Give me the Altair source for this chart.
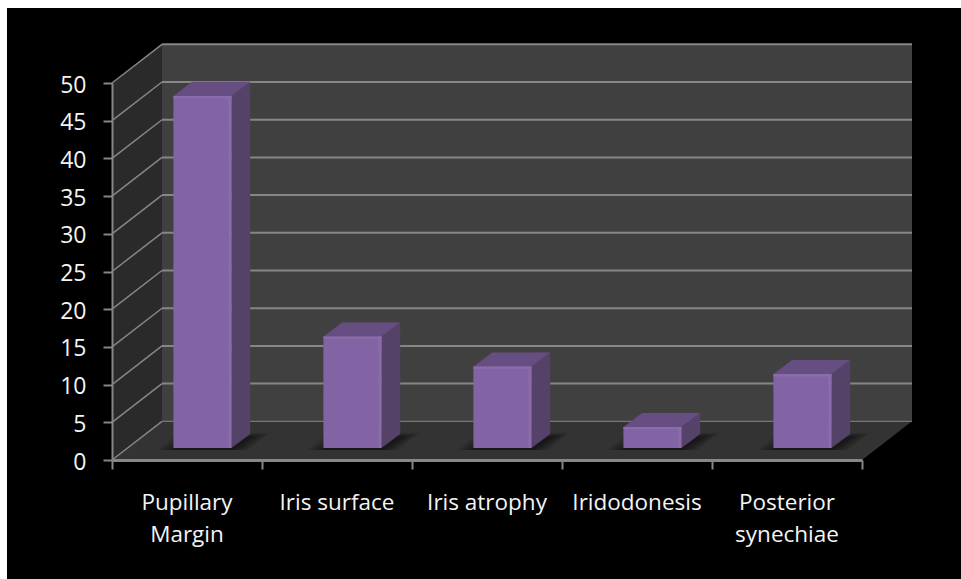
import altair as alt
import pandas as pd

categories = ["Pupillary\nMargin", "Iris surface", "Iris atrophy", "Iridodonesis", "Posterior\nsynechiae"]
values = [46.7, 14.8, 10.8, 2.8, 9.8]
y_ticks = [0, 5, 10, 15, 20, 25, 30, 35, 40, 45, 50]

# Oblique projection of the box, in axis units (1 category, 1 count)
DEPTH_X = 1 / 3
DEPTH_Y = 5.13
BAR_W = 0.387
BAR_SHIFT = 0.103
BAR_BASE = 1.59
SIDE_X = 0.125
SIDE_Y = 1.86
N = len(categories)

X_SCALE = alt.Scale(domain=[0, N], nice=False, zero=False)
Y_SCALE = alt.Scale(domain=[0, 50], nice=False, zero=False)

# Front axes carry the ticks and the count labels
X_AXIS = alt.Axis(
    values=list(range(N + 1)), labels=False, grid=False, zindex=1, title=None,
    domainColor="#868686", domainWidth=3, tickColor="#868686", tickWidth=2, tickSize=9,
)
Y_AXIS = alt.Axis(
    values=y_ticks, grid=False, zindex=1, title=None,
    domainColor="#868686", domainWidth=2, tickColor="#868686", tickWidth=2, tickSize=9,
    labelColor="#f4f4f4", labelFont="Open Sans", labelFontSize=23, labelPadding=17, labelOffset=2,
)


def X(field):
    return alt.X(field, type="quantitative", scale=X_SCALE, axis=X_AXIS)


def Y(field):
    return alt.Y(field, type="quantitative", scale=Y_SCALE, axis=Y_AXIS)


bars = pd.DataFrame({"cat": categories, "value": values})
bars["id"] = range(N)
bars["xl"] = bars["id"] + 0.5 - BAR_W / 2 + BAR_SHIFT
bars["xr"] = bars["xl"] + BAR_W
bars["y0"] = BAR_BASE
bars["y1"] = BAR_BASE + bars["value"]

# Black slide panel behind the chart; the page's white shows at the top and left
panel = alt.Chart(pd.DataFrame({"a": [0]})).mark_rect(color="#000000").encode(
    x=alt.value(-105), x2=alt.value(849), y=alt.value(-75), y2=alt.value(496)
)

# Walls and floor
side_wall = alt.Chart(pd.DataFrame({
    "x": [0, DEPTH_X], "y": [0, DEPTH_Y], "y2": [50, 50 + DEPTH_Y]
})).mark_area(color="#2a2a2a").encode(x=X("x"), y=Y("y"), y2="y2")

floor = alt.Chart(pd.DataFrame({
    "y": [0, DEPTH_Y], "x": [0, DEPTH_X], "x2": [N, N + DEPTH_X]
})).mark_area(color="#333333", orient="horizontal").encode(x=X("x"), x2="x2", y=Y("y"))

back_wall = alt.Chart(pd.DataFrame({
    "x": [DEPTH_X], "x2": [N + DEPTH_X], "y": [DEPTH_Y], "y2": [50 + DEPTH_Y]
})).mark_rect(color="#404040").encode(x=X("x"), x2="x2", y=Y("y"), y2="y2")

grid = pd.DataFrame({"v": y_ticks})
grid["back"] = grid["v"] + DEPTH_Y
grid["xa"] = DEPTH_X
grid["xb"] = N + DEPTH_X
grid["x0"] = 0.0

back_grid = alt.Chart(grid[grid["v"] > 0]).mark_rule(color="#868686", strokeWidth=2).encode(
    x=X("xa"), x2="xb", y=Y("back"), y2="back"
)
floor_line = alt.Chart(grid[grid["v"] == 0]).mark_rule(color="#868686", strokeWidth=1).encode(
    x=X("xa"), x2="xb", y=Y("back"), y2="back"
)
side_grid = alt.Chart(grid).mark_rule(color="#868686", strokeWidth=1.5).encode(
    x=X("x0"), x2="xa", y=Y("v"), y2="back"
)

# Soft contact shadows on the floor: stacked translucent parallelograms
shadow_rows = []
spreads = [0.11, 0.095, 0.08, 0.065, 0.05, 0.035, 0.02, 0.005]
for k, spread in enumerate(spreads):
    for _, b in bars.iterrows():
        for t in (0.0, 1.0):
            shadow_rows.append({
                "sid": f"{k}-{b['id']}",
                "y": b["y0"] - 0.25 + t * (SIDE_Y + 0.4 - 0.08 * k),
                "x": b["xl"] - spread + t * (SIDE_X + 0.02),
                "x2": b["xr"] + spread + t * (SIDE_X + 0.02),
            })
shadows = alt.Chart(pd.DataFrame(shadow_rows)).mark_area(
    color="#000000", opacity=0.075, orient="horizontal"
).encode(x=X("x"), x2="x2", y=Y("y"), detail="sid:N")

# Bar faces
side_rows = []
top_rows = []
for _, b in bars.iterrows():
    side_rows += [
        {"id": b["id"], "x": b["xr"], "y": b["y0"], "y2": b["y1"]},
        {"id": b["id"], "x": b["xr"] + SIDE_X, "y": b["y0"] + SIDE_Y, "y2": b["y1"] + SIDE_Y},
    ]
    top_rows += [
        {"id": b["id"], "y": b["y1"], "x": b["xl"], "x2": b["xr"]},
        {"id": b["id"], "y": b["y1"] + SIDE_Y, "x": b["xl"] + SIDE_X, "x2": b["xr"] + SIDE_X},
    ]

bar_side = alt.Chart(pd.DataFrame(side_rows)).mark_area(color="#554268").encode(
    x=X("x"), y=Y("y"), y2="y2", detail="id:N"
)
bar_top = alt.Chart(pd.DataFrame(top_rows)).mark_area(color="#664e82", orient="horizontal").encode(
    x=X("x"), x2="x2", y=Y("y"), detail="id:N"
)
bar_front = alt.Chart(bars).mark_rect(color="#8263a4").encode(
    x=X("xl"), x2="xr", y=Y("y0"), y2="y1"
)

# Bevel highlights along the top and right edges of each front face
bars["bevel_x"] = bars["xr"] - 0.02
bars["bevel_y"] = bars["y1"] - 0.3
bevel_right = alt.Chart(bars).mark_rect(color="#8a6cab").encode(
    x=X("bevel_x"), x2="xr", y=Y("y0"), y2="y1"
)
bevel_top = alt.Chart(bars).mark_rect(color="#8a6cab").encode(
    x=X("xl"), x2="xr", y=Y("bevel_y"), y2="y1"
)

cat_labels = pd.DataFrame({"cat": categories, "x": [i + 0.5 for i in range(N)], "y": [-6.6] * N})
labels = alt.Chart(cat_labels).mark_text(
    color="#f4f4f4", font="Open Sans", fontSize=22.5, lineBreak="\n", lineHeight=32,
    align="center", baseline="alphabetic",
).encode(x=X("x"), y=Y("y"), text="cat:N")

chart = alt.layer(
    panel, side_wall, floor, back_wall, back_grid, floor_line, side_grid,
    shadows, bar_side, bar_top, bar_front, bevel_right, bevel_top, labels,
).properties(
    width=750,
    height=377,
    background="#ffffff",
    padding={"left": 112, "right": 99, "top": 83, "bottom": 119},
    autosize=alt.AutoSizeParams(type="none"),
).configure_view(stroke=None)

chart.save("out.html", embed_options={"renderer": "svg", "actions": False})
